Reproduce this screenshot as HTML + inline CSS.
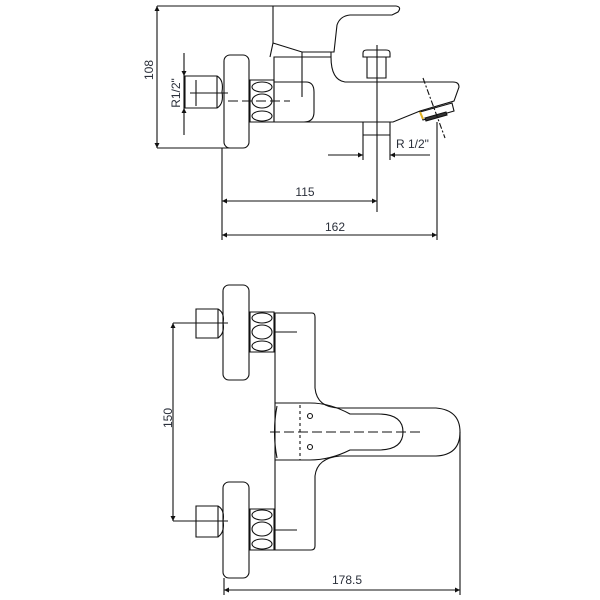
<!DOCTYPE html>
<html><head><meta charset="utf-8"><style>
html,body{margin:0;padding:0;background:#fff;}
svg{display:block}
text{font-family:"Liberation Sans",sans-serif;font-size:12px;fill:#2a2f3a}
</style></head><body>
<svg width="600" height="600" viewBox="0 0 600 600" xmlns="http://www.w3.org/2000/svg">
<defs>
<marker id="a" viewBox="0 0 10 10" refX="10" refY="5" markerWidth="9" markerHeight="5" orient="auto-start-reverse" markerUnits="userSpaceOnUse"><path d="M0,0 L10,5 L0,10 z" fill="#111"/></marker>
</defs>
<g fill="none" stroke="#111" stroke-width="1.1">
<path d="M157,6 H396 Q402,7 398,12 L392,15 H350 Q340,16 337,25 L334,52 H302 L273,43 V6"/>
<path d="M273,43 L270,57"/>
<line x1="302" y1="52" x2="302" y2="97"/>
<line x1="331" y1="52" x2="331" y2="57"/>
<path d="M274,57 H331 Q331,80 345,82 H453 Q459,82 459,87 L454,101 L420,111 L393,122 H274 Z"/>
<path d="M274,82 H306 Q314,82 314,92 V112 Q314,122 304,122"/>
<path d="M420,112 L452,103 L454,111 L423,120 Z"/>
<path d="M425,118 L446,112 L447,115 L426,121 Z" fill="#333"/>
<path d="M420,112 L423,119" stroke="#e0b020" stroke-width="2"/>
<line x1="423" y1="78" x2="445" y2="138" stroke-dasharray="6,2,2,2"/>
<path d="M363,53 Q363,50 367,50 H386 Q390,50 390,53 V57 H363 Z"/>
<path d="M367,57 V78 H386 V57"/>
<path d="M363,122 V160 M390,122 V160 M363,135 H390"/>
<line x1="377" y1="45" x2="377" y2="212"/>
<path d="M250,80 H274 V122 H250 Z"/>
<ellipse cx="262" cy="87" rx="10" ry="5"/><ellipse cx="262" cy="101" rx="10" ry="7"/><ellipse cx="262" cy="116" rx="10" ry="5"/>
<rect x="224" y="55" width="25" height="93" rx="6"/>
<path d="M185,76 H217 Q224,80 222,92 Q224,104 217,108 H185 Z"/>
<line x1="217" y1="76" x2="217" y2="108"/>
<line x1="196" y1="80" x2="196" y2="106"/>
<line x1="190" y1="93" x2="228" y2="93"/>
<line x1="228" y1="101" x2="290" y2="101" stroke-dasharray="10,4"/>
<line x1="157" y1="6" x2="157" y2="148" marker-start="url(#a)" marker-end="url(#a)"/>
<line x1="157" y1="148" x2="232" y2="148"/>
<line x1="184" y1="53" x2="184" y2="76" marker-end="url(#a)"/>
<line x1="184" y1="135" x2="184" y2="108" marker-end="url(#a)"/>
<line x1="184" y1="76" x2="184" y2="108"/>
<line x1="328" y1="155" x2="363" y2="155" marker-end="url(#a)"/>
<line x1="430" y1="155" x2="390" y2="155" marker-end="url(#a)"/>
<line x1="222" y1="148" x2="222" y2="240"/>
<line x1="437" y1="122" x2="437" y2="240"/>
<line x1="222" y1="201" x2="377" y2="201" marker-start="url(#a)" marker-end="url(#a)"/>
<line x1="222" y1="235" x2="437" y2="235" marker-start="url(#a)" marker-end="url(#a)"/>

<rect x="223" y="285" width="26" height="95" rx="6"/>
<rect x="223" y="482" width="26" height="96" rx="6"/>
<path d="M250,312 H274 V352 H250 Z"/>
<ellipse cx="262" cy="318" rx="10" ry="5"/><ellipse cx="262" cy="332" rx="10" ry="7"/><ellipse cx="262" cy="346" rx="10" ry="5"/>
<path d="M250,509 H274 V550 H250 Z"/>
<ellipse cx="262" cy="515" rx="10" ry="5"/><ellipse cx="262" cy="529" rx="10" ry="7"/><ellipse cx="262" cy="544" rx="10" ry="5"/>
<path d="M275,313 H312 Q315,313 315,317 V388 Q317,408 340,408 H436 Q460,410 460,432 Q460,455 436,456 H340 Q317,458 315,476 V546 Q315,550 311,550 H275 Z"/>
<path d="M275,403 H310 Q330,403 350,414 H378 Q403,414 403,432 Q403,450 378,450 H350 Q330,460 310,460 H275"/>
<path d="M277,406 Q272,432 277,458"/>
<line x1="270" y1="432" x2="422" y2="432" stroke-dasharray="10,4"/>
<line x1="300" y1="405" x2="300" y2="460" stroke-dasharray="3,3"/>
<circle cx="310" cy="416" r="2.5"/><circle cx="310" cy="447" r="2.5"/>
<path d="M196,309 H218 Q225,313 223,323 Q225,333 218,338 H196 Z"/>
<line x1="218" y1="309" x2="218" y2="338"/>
<path d="M196,506 H218 Q225,510 223,521 Q225,532 218,537 H196 Z"/>
<line x1="218" y1="506" x2="218" y2="537"/>
<line x1="173" y1="323" x2="228" y2="323"/>
<line x1="173" y1="521" x2="228" y2="521"/>
<line x1="275" y1="332" x2="297" y2="332"/>
<line x1="275" y1="530" x2="297" y2="530"/>
<line x1="173" y1="323" x2="173" y2="521" marker-start="url(#a)" marker-end="url(#a)"/>
<line x1="460" y1="432" x2="460" y2="595"/>
<line x1="224" y1="578" x2="224" y2="595"/>
<line x1="224" y1="590" x2="460" y2="590" marker-start="url(#a)" marker-end="url(#a)"/>
</g>
<text x="0" y="0" transform="translate(153,70) rotate(-90)" text-anchor="middle">108</text>
<text x="0" y="0" transform="translate(180,93) rotate(-90)" text-anchor="middle">R1/2"</text>
<text x="396" y="148">R 1/2"</text>
<text x="305" y="196" text-anchor="middle">115</text>
<text x="335" y="231" text-anchor="middle">162</text>
<text x="0" y="0" transform="translate(172,418) rotate(-90)" text-anchor="middle">150</text>
<text x="347" y="584" text-anchor="middle">178.5</text>
</svg>
</body></html>
